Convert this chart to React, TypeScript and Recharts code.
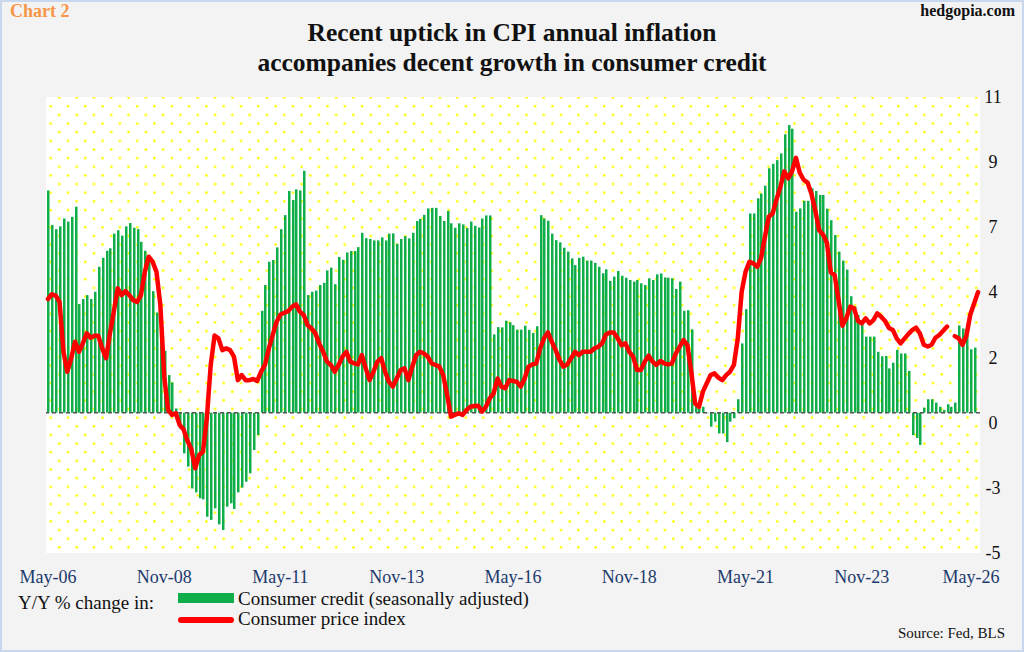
import React from 'react';
import {
    ComposedChart,
    Bar,
    Line,
    XAxis,
    YAxis,
    CartesianGrid,
    ReferenceLine
} from 'recharts';

// Y/Y % change in consumer credit (seasonally adjusted), May-06 .. May-26 (last month not out yet)
const credit: (number | null)[] = [
    7.92, 6.69, 6.54, 6.64, 6.92, 6.81, 6.98, 7.34, 3.87, 4.05,
    4.19, 4.05, 4.31, 5.20, 5.52, 5.77, 5.86, 6.38, 6.50, 6.31,
    6.64, 6.76, 6.59, 6.54, 6.09, 5.77, 5.50, 4.33, 3.57, 2.90,
    2.20, 1.34, 1.08, 0.15, -0.56, -1.45, -1.92, -2.70, -2.84, -3.05,
    -3.09, -3.71, -3.82, -3.41, -3.98, -4.18, -3.35, -3.23, -3.43, -2.84,
    -2.67, -2.46, -2.16, -1.33, -0.80, 3.63, 4.55, 5.38, 5.44, 5.89,
    6.54, 7.04, 7.90, 7.58, 7.96, 7.92, 8.62, 4.19, 4.31, 4.35,
    4.55, 4.63, 5.07, 5.17, 4.58, 5.55, 5.45, 5.71, 5.76, 5.76,
    5.90, 6.41, 6.22, 6.19, 6.14, 6.14, 6.25, 6.14, 6.38, 6.39,
    6.02, 6.19, 6.29, 6.21, 6.41, 6.83, 6.91, 7.05, 7.28, 7.30,
    7.30, 7.01, 6.83, 7.19, 6.75, 6.59, 6.75, 6.71, 6.58, 6.81,
    6.66, 6.60, 6.92, 7.03, 7.03, 2.79, 3.05, 3.04, 3.28, 3.22,
    3.12, 2.96, 2.96, 3.10, 2.95, 2.84, 3.08, 7.04, 6.92, 6.84,
    6.38, 6.15, 6.07, 5.88, 5.74, 5.50, 5.26, 5.52, 5.56, 5.42,
    5.42, 5.34, 5.20, 4.97, 5.11, 4.70, 4.85, 5.05, 4.88, 4.81,
    4.73, 4.67, 4.73, 4.61, 4.55, 4.79, 4.73, 4.93, 4.96, 4.82,
    4.81, 4.79, 4.41, 4.67, 3.63, 3.65, 2.97, 0.27, 0.15, 0.21,
    -0.02, -0.50, -0.32, -0.74, -0.74, -1.05, -0.32, -0.20, 0.48, 2.47,
    3.69, 7.10, 7.10, 7.64, 7.81, 8.09, 8.71, 8.87, 9.00, 9.24,
    9.92, 10.25, 10.12, 7.16, 7.28, 7.55, 7.55, 8.00, 7.90, 7.76,
    7.76, 7.27, 6.86, 6.33, 5.74, 5.42, 5.10, 4.15, 3.78, 3.48,
    3.12, 2.71, 2.71, 2.71, 2.17, 2.01, 2.02, 1.58, 1.78, 2.24,
    2.11, 2.11, 1.49, -0.80, -0.90, -1.15, 0.18, 0.48, 0.48, 0.36,
    0.21, 0.10, 0.30, 0.21, 0.36, 3.11, 3.00, 3.10, 2.26, 2.32,
    null
];

// Y/Y % change in CPI (Oct-25 was never published)
const cpi: (number | null)[] = [
    4.05, 4.22, 4.17, 3.95, 2.17, 1.46, 1.94, 2.53, 2.17, 2.47,
    2.83, 2.67, 2.74, 2.74, 2.29, 1.94, 2.83, 3.60, 4.43, 4.19,
    4.33, 4.19, 4.01, 3.95, 4.19, 5.02, 5.56, 5.38, 5.02, 3.85,
    1.30, 0.10, -0.08, -0.02, -0.44, -0.60, -1.00, -1.30, -1.98, -1.51,
    -1.39, -0.20, 1.70, 2.75, 2.65, 2.23, 2.29, 2.23, 2.00, 1.16,
    1.34, 1.16, 1.16, 1.20, 1.13, 1.46, 1.70, 2.29, 2.77, 3.24,
    3.50, 3.56, 3.62, 3.78, 3.86, 3.60, 3.48, 3.12, 3.00, 2.83,
    2.47, 2.17, 1.82, 1.70, 1.46, 1.70, 2.00, 2.17, 1.82, 1.76,
    1.72, 2.05, 1.58, 1.16, 1.46, 1.82, 1.94, 1.46, 1.10, 0.93,
    1.22, 1.52, 1.58, 1.16, 1.64, 2.05, 2.17, 2.11, 2.00, 1.76,
    1.70, 1.64, 1.34, 0.63, -0.14, -0.08, -0.02, -0.08, 0.10, 0.21,
    0.24, 0.25, 0.04, 0.21, 0.51, 0.69, 1.22, 0.93, 0.87, 1.16,
    1.13, 1.10, 0.93, 1.22, 1.64, 1.72, 1.76, 2.29, 2.65, 2.86,
    2.53, 2.23, 1.88, 1.64, 1.72, 1.94, 2.17, 2.05, 2.17, 2.17,
    2.17, 2.29, 2.35, 2.47, 2.79, 2.86, 2.86, 2.65, 2.41, 2.47,
    2.17, 2.00, 1.52, 1.52, 1.82, 2.03, 1.82, 1.70, 1.84, 1.76,
    1.72, 1.76, 2.11, 2.35, 2.59, 2.41, 1.46, 0.33, 0.21, 0.75,
    1.05, 1.34, 1.40, 1.25, 1.16, 1.34, 1.46, 1.70, 2.65, 4.31,
    5.02, 5.38, 5.32, 5.20, 5.50, 6.27, 6.98, 7.10, 7.60, 8.05,
    8.60, 8.35, 8.60, 9.08, 8.55, 8.30, 8.20, 7.80, 7.20, 6.50,
    6.35, 6.05, 5.00, 4.90, 4.00, 3.10, 3.36, 3.78, 3.72, 3.27,
    3.18, 3.36, 3.18, 3.30, 3.54, 3.42, 3.27, 3.02, 2.95, 2.65,
    2.47, 2.64, 2.80, 2.94, 3.03, 2.82, 2.42, 2.36, 2.42, 2.67,
    2.77, 2.92, 3.07, null, 2.73, 2.65, 2.42, 2.75, 3.50, 3.90,
    4.30
];

// right axis: 8 evenly spaced ticks over [-5, 11.25], shown rounded
const yTicks = [-5, -2.68, -0.36, 1.96, 4.29, 6.61, 8.93, 11.25];

const MONTHS = ['Jan', 'Feb', 'Mar', 'Apr', 'May', 'Jun', 'Jul', 'Aug', 'Sep', 'Oct', 'Nov', 'Dec'];
const months = cpi.map((_, i) => {
    const n = 4 + i; // May 2006 = index 0
    const yr = 6 + Math.floor(n / 12);
    return `${MONTHS[n % 12]}-${String(yr).padStart(2, '0')}`;
});

const rows = months.map((month, i) => ({ month, credit: credit[i], cpi: cpi[i] }));

const serif = '"Liberation Serif", "Times New Roman", serif';
const GREEN = '#0fae4b';

const XTick = (props: any) => {
    const { x, y, payload, index } = props;
    const last = index === 8;
    return (
        <text x={x + (last ? -7 : 0)} y={y + 30} textAnchor="middle" fontFamily={serif} fontSize={18} fill="#1d3a6d">
            {payload.value}
        </text>
    );
};

const YTick = (props: any) => {
    const { x, y, payload } = props;
    return (
        <text x={x + 13} y={y + 6} textAnchor="middle" fontFamily={serif} fontSize={18} fill="#111">
            {Math.round(payload.value)}
        </text>
    );
};

// bars start on whole pixels so every one comes out the same
const CreditBar = (props: any) => {
    const { x, y, height, fill } = props;
    if (!height) return null;
    const top = height < 0 ? y + height : y;
    return <rect x={Math.round(x)} y={top} width={2.5} height={Math.abs(height)} fill={fill} />;
};

const App: React.FC = () => {
    return (
        <div
            style={{
                position: 'absolute',
                left: 0,
                top: 0,
                width: 1024,
                height: 652,
                background: '#f3f3f3',
                boxShadow: 'inset 0 0 0 2px #c9d8ee',
                fontFamily: serif,
                overflow: 'hidden'
            }}
        >
            <div style={{ position: 'absolute', left: 10, top: 1, fontSize: 18, fontWeight: 'bold', color: '#f79646' }}>
                Chart 2
            </div>
            <div style={{ position: 'absolute', right: 9, top: 2, fontSize: 16, fontWeight: 'bold', color: '#111' }}>
                hedgopia.com
            </div>
            <div
                style={{
                    position: 'absolute',
                    left: 0,
                    top: 18,
                    width: 1024,
                    textAlign: 'center',
                    fontSize: 25.5,
                    lineHeight: '30px',
                    fontWeight: 'bold',
                    color: '#111'
                }}
            >
                Recent uptick in CPI annual inflation
                <br />
                accompanies decent growth in consumer credit
            </div>

            <div style={{ position: 'absolute', left: 0, top: 0 }}>
                <ComposedChart
                    width={1024}
                    height={652}
                    data={rows}
                    margin={{ top: 97, right: 0, bottom: 69, left: 46 }}
                    barCategoryGap="36%"
                >
                    <defs>
                        <pattern id="dots" patternUnits="userSpaceOnUse" x={46.4} y={413.4} width={17.3} height={17.3}>
                            <rect x={0} y={0} width={17.3} height={17.3} fill="#ffffff" />
                            <circle cx={4.3} cy={4.3} r={1.3} fill="#ffff00" />
                            <circle cx={12.95} cy={12.95} r={1.3} fill="#ffff00" />
                        </pattern>
                    </defs>
                    <CartesianGrid horizontal={false} vertical={false} fill="url(#dots)" stroke="none" />
                    <XAxis
                        dataKey="month"
                        interval={29}
                        axisLine={false}
                        tickLine={false}
                        tickSize={0}
                        tickMargin={0}
                        height={30}
                        tick={<XTick />}
                    />
                    <YAxis
                        orientation="right"
                        width={44}
                        domain={[-5, 11.25]}
                        ticks={yTicks}
                        allowDataOverflow
                        axisLine={false}
                        tickLine={false}
                        tickSize={0}
                        tickMargin={0}
                        tick={<YTick />}
                    />
                    <Bar dataKey="credit" fill={GREEN} shape={<CreditBar />} isAnimationActive={false} />
                    <ReferenceLine y={0} stroke="#555" strokeWidth={1.5} strokeDasharray="4 3" />
                    <Line
                        type="linear"
                        dataKey="cpi"
                        stroke="#ff0000"
                        strokeWidth={4.5}
                        strokeLinejoin="round"
                        strokeLinecap="round"
                        dot={false}
                        activeDot={false}
                        connectNulls={false}
                        isAnimationActive={false}
                    />
                </ComposedChart>
            </div>

            <div style={{ position: 'absolute', left: 18, top: 591, fontSize: 19, lineHeight: '24px', color: '#111' }}>
                Y/Y % change in:
            </div>
            <div style={{ position: 'absolute', left: 178, top: 593, width: 56, height: 10, background: GREEN }} />
            <div style={{ position: 'absolute', left: 238, top: 587, fontSize: 19, lineHeight: '24px', color: '#111' }}>
                Consumer credit (seasonally adjusted)
            </div>
            <div style={{ position: 'absolute', left: 178, top: 617, width: 56, height: 6, background: '#ff0000', borderRadius: 3 }} />
            <div style={{ position: 'absolute', left: 238, top: 607, fontSize: 19, lineHeight: '24px', color: '#111' }}>
                Consumer price index
            </div>
            <div style={{ position: 'absolute', right: 19, top: 624, fontSize: 15, lineHeight: '18px', color: '#111' }}>
                Source: Fed, BLS
            </div>
        </div>
    );
};

export default App;
